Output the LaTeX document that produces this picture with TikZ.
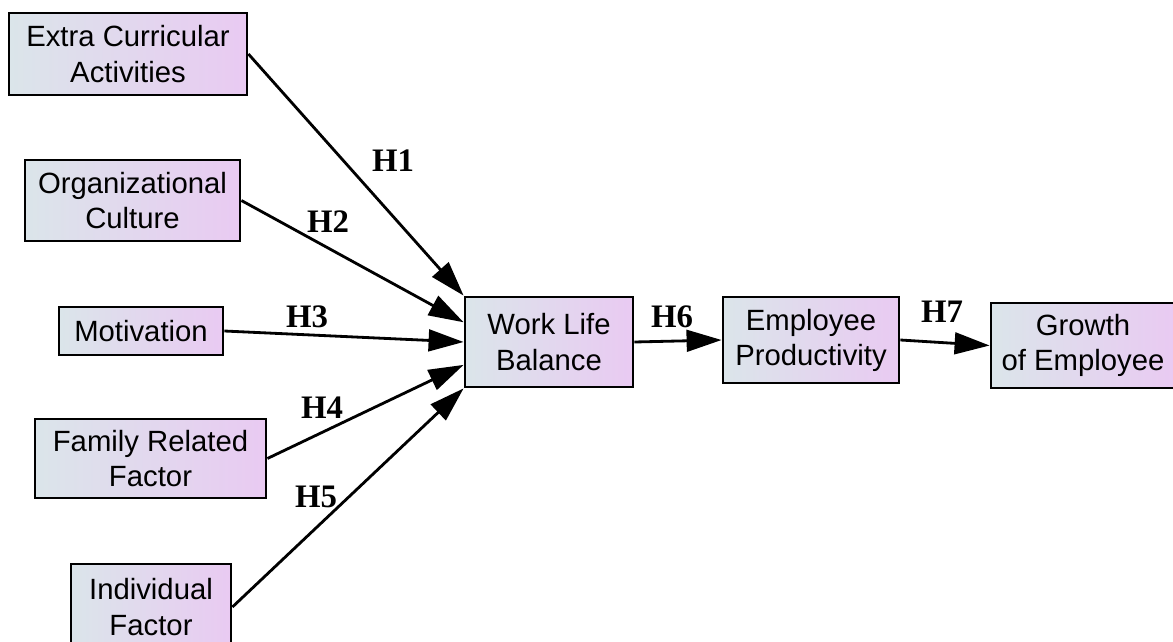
\documentclass[tikz,border=0pt]{standalone}
\usepackage{fontspec}
\setmainfont{Liberation Sans}
\newfontfamily\hypfont{Liberation Serif}
\usetikzlibrary{arrows.meta}
\definecolor{boxleft}{RGB}{219,229,234}
\definecolor{boxright}{RGB}{233,202,242}

\begin{document}
\begin{tikzpicture}[x=0.03cm, y=-0.03cm,
  box/.style={draw, line width=2.4pt, left color=boxleft, right color=boxright,
    align=center, inner sep=0pt, font=\fontsize{25}{30}\selectfont},
  hyp/.style={inner sep=0pt, font=\hypfont\bfseries\fontsize{28}{30}\selectfont},
  link/.style={line width=2.4pt, -{Triangle[length=1.05cm, width=0.65cm]}}]
  \clip (0,0) rectangle (1173,641);
  % factors
  \node[box, minimum width=238*0.03cm, minimum height=82*0.03cm] (eca) at (128,54) {Extra Curricular\\Activities};
  \node[box, minimum width=215*0.03cm, minimum height=81*0.03cm] (oc) at (132.5,200.5) {Organizational\\Culture};
  \node[box, minimum width=164*0.03cm, minimum height=48*0.03cm] (mot) at (141,331) {Motivation};
  \node[box, minimum width=231*0.03cm, minimum height=79*0.03cm] (frf) at (150.5,458.5) {Family Related\\Factor};
  \node[box, minimum width=160*0.03cm, minimum height=86*0.03cm] (inf) at (151,607) {Individual\\Factor};
  % outcomes
  \node[box, minimum width=168*0.03cm, minimum height=90*0.03cm] (wlb) at (549,342) {Work Life\\Balance};
  \node[box, minimum width=176*0.03cm, minimum height=86*0.03cm] (ep) at (811,340) {Employee\\Productivity};
  \node[box, minimum width=184*0.03cm, minimum height=85*0.03cm] (goe) at (1083,345.5) {Growth\\of Employee};
  \draw[link] (eca.east) -- (wlb.north west);
  \draw[link] (oc.east) -- (wlb.167);
  \draw[link] (mot.east) -- (wlb.west);
  \draw[link] (frf.east) -- (wlb.195);
  \draw[link] (inf.east) -- (wlb.south west);
  \draw[link] (wlb.east) -- (ep.west);
  \draw[link] (ep.east) -- (goe.west);
  \node[hyp] (h1) at (393,161) {H1};
  \node[hyp] (h2) at (328,222) {H2};
  \node[hyp] (h3) at (307,317) {H3};
  \node[hyp] (h4) at (322,408) {H4};
  \node[hyp] (h5) at (316,497) {H5};
  \node[hyp] (h6) at (672,317) {H6};
  \node[hyp] (h7) at (942,312) {H7};
\end{tikzpicture}
\end{document}
